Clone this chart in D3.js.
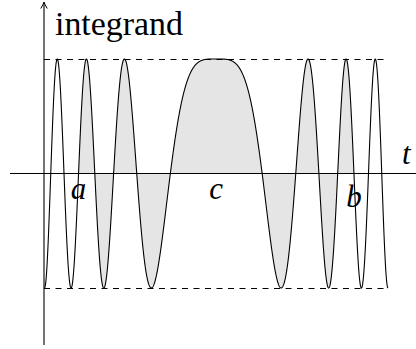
<!DOCTYPE html>
<html>
<head>
<meta charset="utf-8">
<script src="https://cdn.jsdelivr.net/npm/d3@7/dist/d3.min.js"></script>
<style>
  html, body { margin: 0; padding: 0; background: #fff; }
  svg { display: block; }
  text { font-family: "Liberation Serif", "Times New Roman", serif; fill: #000; }
</style>
</head>
<body>
<script>
// Oscillatory integrand cos(phi(t)) with a stationary point of the phase at t = c.
const tDomain = [-Math.sqrt(7), Math.sqrt(7)];   // plotted range of t
const bounds = [-1, 1];                             // envelope of the integrand
const phaseCoeff = Math.PI;                         // phi(t) = phaseCoeff * t^2
const markNames = ["a", "c", "b"];                  // interval ends and stationary point
const markValues = [-Math.sqrt(4.5), 0, Math.sqrt(4.5)];
const axisTitles = ["integrand", "t"];

const W = 416, H = 349;
const svg = d3.select("body").append("svg").attr("width", W).attr("height", H);

const x = d3.scaleLinear().domain(tDomain).range([44.5, 388]);
const y = d3.scaleLinear().domain(bounds).range([288, 59]);

const f = t => Math.cos(phaseCoeff * t * t);
const N = 1600;
const samples = d3.range(N + 1).map(i => tDomain[0] + (tDomain[1] - tDomain[0]) * i / N);

// shaded region between the curve and the axis over [a, b]
const a = markValues[0], b = markValues[2];
const shadeT = samples.filter(t => t > a && t < b);
shadeT.unshift(a); shadeT.push(b);
svg.append("path")
  .attr("d", d3.area().x(t => x(t)).y0(y(0)).y1(t => y(f(t)))(shadeT))
  .attr("fill", "#e5e5e5");

// envelope lines at +1 and -1
svg.selectAll("line.bound").data(bounds).join("line")
  .attr("class", "bound")
  .attr("x1", x(tDomain[0]) - 0.5).attr("x2", x(tDomain[1]))
  .attr("y1", d => Math.round(y(d)) + 0.5).attr("y2", d => Math.round(y(d)) + 0.5)
  .attr("stroke", "#000").attr("stroke-width", 1)
  .attr("stroke-dasharray", "6,5.5");

// axes
const y0 = y(0);
svg.append("line").attr("x1", 10).attr("x2", W).attr("y1", y0).attr("y2", y0)
  .attr("stroke", "#000").attr("stroke-width", 1.1);
const xAxisPos = x(tDomain[0]) - 0.5;
svg.append("line").attr("x1", xAxisPos).attr("x2", xAxisPos).attr("y1", 345).attr("y2", 2.5)
  .attr("stroke", "#000").attr("stroke-width", 1.1);
svg.append("path")
  .attr("d", `M${xAxisPos - 3.2},${8.5} Q${xAxisPos - 0.8},${4.5} ${xAxisPos},${2} Q${xAxisPos + 0.8},${4.5} ${xAxisPos + 3.2},${8.5}`)
  .attr("fill", "none").attr("stroke", "#000").attr("stroke-width", 1);

// the integrand
svg.append("path")
  .attr("d", d3.line().x(t => x(t)).y(t => y(f(t)))(samples))
  .attr("fill", "none").attr("stroke", "#000").attr("stroke-width", 1.1)
  .attr("stroke-linejoin", "round");

// titles
svg.append("text").attr("x", 55).attr("y", 35)
  .attr("font-size", 33).attr("textLength", 128).attr("lengthAdjust", "spacingAndGlyphs")
  .text(axisTitles[0]);
svg.append("text").attr("x", 402).attr("y", 163.5)
  .attr("font-size", 31).attr("font-style", "italic")
  .text(axisTitles[1]);

// interval labels hung just below the axis
const labelTop = y0 + 10.5;
svg.selectAll("text.mark").data(markNames).join("text")
  .attr("class", "mark")
  .attr("x", (d, i) => x(markValues[i]))
  .attr("y", d => labelTop + (/[bdfhklt]/.test(d) ? 22.5 : 15))
  .attr("text-anchor", "middle")
  .attr("font-size", 31).attr("font-style", "italic")
  .text(d => d);
</script>
</body>
</html>
